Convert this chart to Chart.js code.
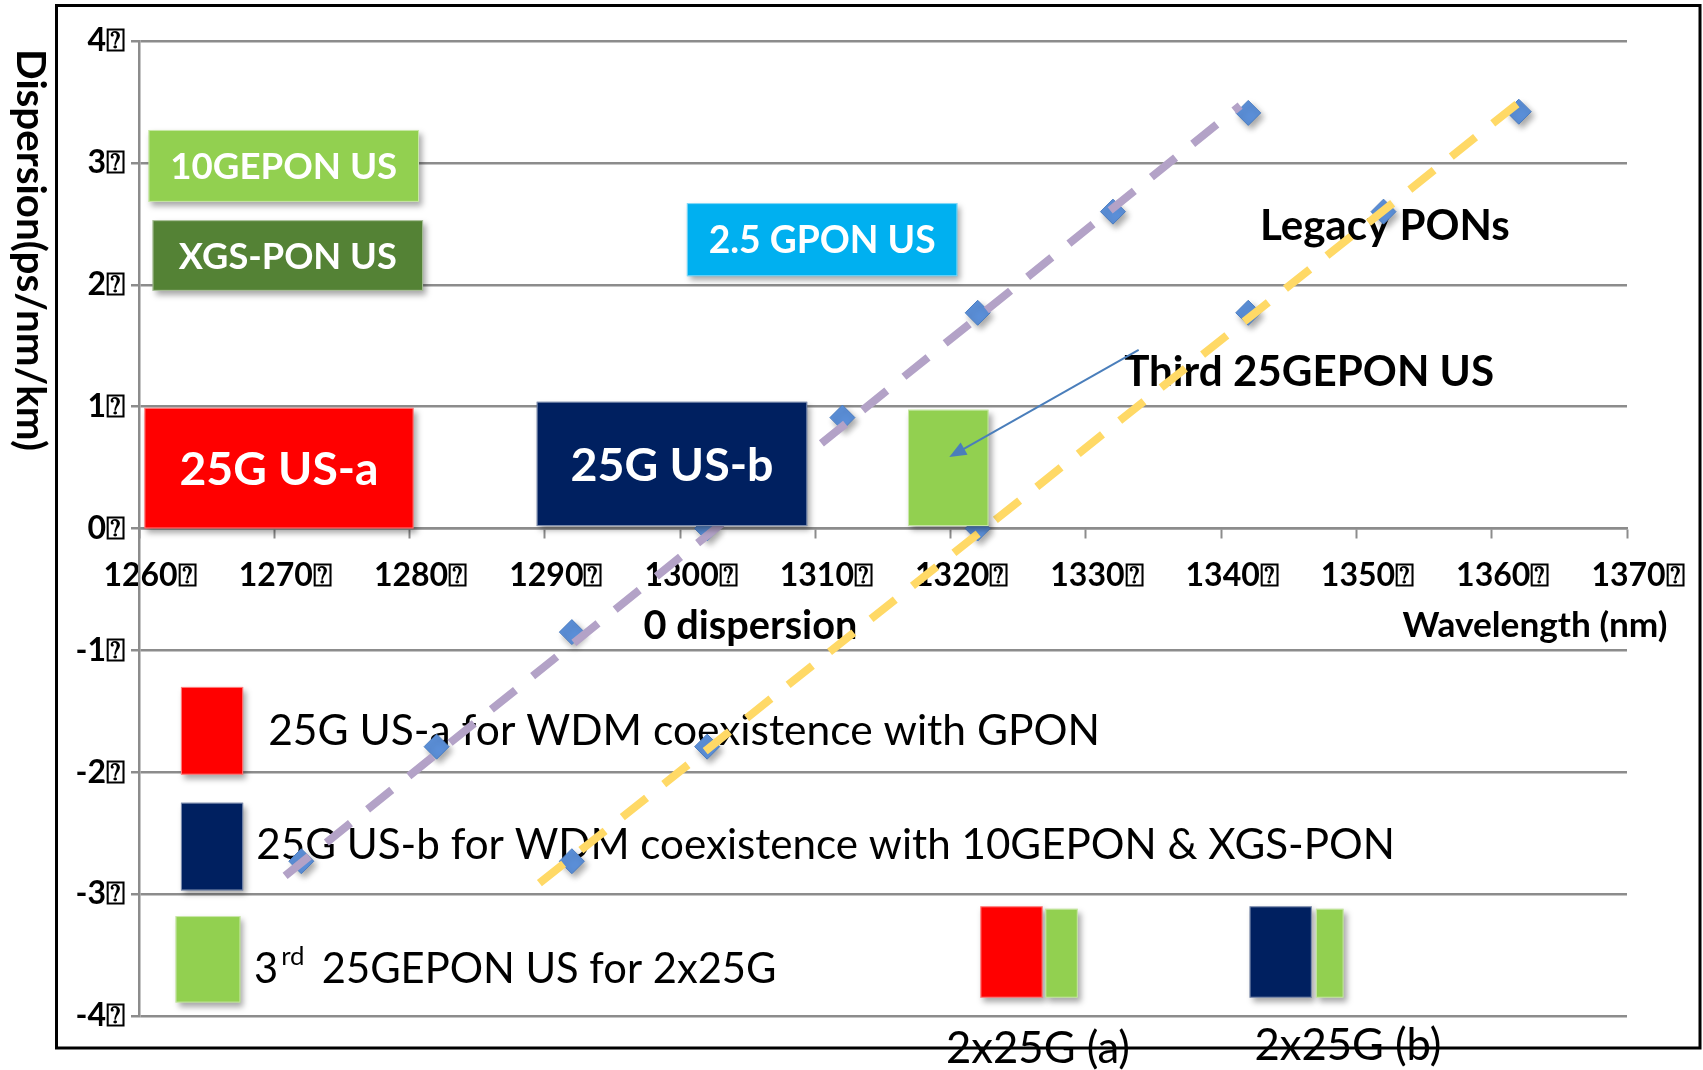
<!DOCTYPE html>
<html>
<head>
<meta charset="utf-8">
<script src="https://cdn.jsdelivr.net/npm/chart.js@4.4.0/dist/chart.umd.min.js"></script>
<style>
  html, body { margin: 0; padding: 0; background: #fff; }
  #wrap { width: 1703px; height: 1070px; position: relative; }
</style>
</head>
<body>
<div id="wrap"><canvas id="dispersionChart"></canvas></div>
<script>
// -------------------------------
// Data --------------------------
// -------------------------------
const wavelengthTicks = [1260, 1270, 1280, 1290, 1300, 1310, 1320, 1330, 1340, 1350, 1360, 1370];
const dispersionTicks = [-4, -3, -2, -1, 0, 1, 2, 3, 4];
const TOFU = "\u2370"; // the broken glyph shown after every tick label

// fibre A (purple trend)
const wavelengthA = [1272, 1282, 1292, 1302, 1312, 1322, 1332, 1342];
const dispersionA = [-2.73, -1.79, -0.85, 0, 0.91, 1.77, 2.6, 3.41];
// fibre B (yellow trend)
const wavelengthB = [1292, 1302, 1322, 1342, 1352, 1362];
const dispersionB = [-2.73, -1.79, 0, 1.77, 2.6, 3.42];

// trend line end points
const trendAWave = [1270.8, 1341.4];
const trendADisp = [-2.85, 3.47];
const trendBWave = [1289.6, 1362.3];
const trendBDisp = [-2.91, 3.52];

// -------------------------------
// Annotations -------------------
// -------------------------------
const GRID = "rgb(140,140,140)";
const FONT = "Lato";

const bandBoxes = [
  { text: "10GEPON US", x: [1260.7, 1280.7], y: [2.68, 3.27], color: "#92D050", textWidth: 227 },
  { text: "XGS-PON US", x: [1261.0, 1281.0], y: [1.95, 2.53], color: "#548235", textWidth: 218 },
  { text: "2.5 GPON US", x: [1300.5, 1320.5], y: [2.07, 2.67], color: "#00B0F0", textWidth: 227 },
  { text: "25G US-a", x: [1260.4, 1280.3], y: [0.0, 0.99], color: "#FF0000", textWidth: 199 },
  { text: "25G US-b", x: [1289.4, 1309.4], y: [0.02, 1.04], color: "#002060", textWidth: 203 },
  { x: [1316.85, 1322.8], y: [0.02, 0.975], color: "#92D050" },
  // legend swatches
  { x: [1263.1, 1267.7], y: [-2.02, -1.3], color: "#FF0000" },
  { x: [1263.1, 1267.7], y: [-2.97, -2.25], color: "#002060" },
  { x: [1262.7, 1267.5], y: [-3.89, -3.18], color: "#92D050" },
  { x: [1322.2, 1326.8], y: [-3.85, -3.1], color: "#FF0000" },
  { x: [1327.0, 1329.4], y: [-3.85, -3.12], color: "#92D050" },
  { x: [1342.1, 1346.7], y: [-3.85, -3.1], color: "#002060" },
  { x: [1347.0, 1349.05], y: [-3.85, -3.12], color: "#92D050" },
];

const notes = [
  { text: "Legacy PONs", x: 1352.1, y: 2.49, width: 250, weight: "bold", align: "center" },
  { text: "Third 25GEPON US", x: 1346.5, y: 1.29, width: 370, weight: "bold", align: "center" },
  { text: "0 dispersion", x: 1305.2, y: -0.79, width: 214, weight: "bold", align: "center" },
  { text: "Wavelength (nm)", x: 1363.2, y: -0.79, width: 265, weight: "bold", align: "center" },
  { text: "25G US-a for WDM coexistence with GPON", x: 1269.55, y: -1.65, width: 832, weight: "normal", align: "left" },
  { text: "25G US-b for WDM coexistence with 10GEPON & XGS-PON", x: 1268.67, y: -2.59, width: 1139, weight: "normal", align: "left" },
  { text: "2x25G (a)", x: 1326.46, y: -4.26, width: 184, weight: "normal", align: "center" },
  { text: "2x25G (b)", x: 1349.37, y: -4.23, width: 187, weight: "normal", align: "center" },
];
const thirdNote = { x: 1268.5, y: -3.61 };

const arrowFrom = [1333.9, 1.466];
const arrowTo = [1319.9, 0.587];

// -------------------------------
// Helpers -----------------------
// -------------------------------
function fitSize(ctx, text, weight, width) {
  ctx.font = `${weight} 100px ${FONT}`;
  return (100 * width) / ctx.measureText(text).width;
}

// draw text with its capitals centred on py
function capText(ctx, text, px, py, size, weight, align) {
  ctx.font = `${weight} ${size}px ${FONT}`;
  ctx.textAlign = align;
  ctx.textBaseline = "alphabetic";
  ctx.fillText(text, px, py + size * 0.36);
}

function shadowOn(ctx) {
  ctx.shadowColor = "rgba(0,0,0,0.35)";
  ctx.shadowBlur = 6;
  ctx.shadowOffsetX = 3;
  ctx.shadowOffsetY = 4;
}

const overlayPlugin = {
  id: "overlay",
  beforeDatasetsDraw(chart) {
    const { ctx, scales: { x, y } } = chart;
    ctx.save();
    ctx.fillStyle = "#000";
    notes.forEach((n) => {
      const size = fitSize(ctx, n.text, n.weight, n.width);
      capText(ctx, n.text, x.getPixelForValue(n.x), y.getPixelForValue(n.y), size, n.weight, n.align);
    });
    // "3rd  25GEPON US for 2x25G" with superscript
    const size = fitSize(ctx, notes[4].text, "normal", notes[4].width) * 0.98;
    let px = x.getPixelForValue(thirdNote.x);
    const py = y.getPixelForValue(thirdNote.y);
    capText(ctx, "3", px, py, size, "normal", "left");
    px += ctx.measureText("3").width + 3;
    capText(ctx, "rd", px, py - size * 0.3, size * 0.62, "normal", "left");
    px += ctx.measureText("rd").width;
    capText(ctx, "  25GEPON US for 2x25G", px - 4, py, size, "normal", "left");
    ctx.restore();
  },
  beforeDatasetDraw(chart, args) {
    if (args.meta.type === "scatter") {
      chart.ctx.save();
      shadowOn(chart.ctx);
    }
  },
  afterDatasetDraw(chart, args) {
    if (args.meta.type === "scatter") chart.ctx.restore();
  },
  afterDatasetsDraw(chart) {
    const { ctx, scales: { x, y } } = chart;
    ctx.save();
    bandBoxes.forEach((b) => {
      const x0 = x.getPixelForValue(b.x[0]);
      const x1 = x.getPixelForValue(b.x[1]);
      const y0 = y.getPixelForValue(b.y[1]);
      const y1 = y.getPixelForValue(b.y[0]);
      ctx.save();
      shadowOn(ctx);
      ctx.fillStyle = b.color;
      ctx.fillRect(x0, y0, x1 - x0, y1 - y0);
      ctx.restore();
      ctx.strokeStyle = "rgba(255,255,255,0.5)";
      ctx.lineWidth = 1;
      ctx.strokeRect(x0 + 0.5, y0 + 0.5, x1 - x0 - 1, y1 - y0 - 1);
      if (b.text) {
        ctx.fillStyle = "#fff";
        const size = fitSize(ctx, b.text, "bold", b.textWidth);
        capText(ctx, b.text, (x0 + x1) / 2, (y0 + y1) / 2, size, "bold", "center");
      }
    });

    // arrow pointing at the third 25GEPON band
    const ax0 = x.getPixelForValue(arrowFrom[0]);
    const ay0 = y.getPixelForValue(arrowFrom[1]);
    const ax1 = x.getPixelForValue(arrowTo[0]);
    const ay1 = y.getPixelForValue(arrowTo[1]);
    const ang = Math.atan2(ay1 - ay0, ax1 - ax0);
    const head = 17;
    ctx.strokeStyle = "#4A7EBB";
    ctx.fillStyle = "#4A7EBB";
    ctx.lineWidth = 2;
    ctx.beginPath();
    ctx.moveTo(ax0, ay0);
    ctx.lineTo(ax1 - Math.cos(ang) * head * 0.8, ay1 - Math.sin(ang) * head * 0.8);
    ctx.stroke();
    ctx.beginPath();
    ctx.moveTo(ax1, ay1);
    ctx.lineTo(ax1 - head * Math.cos(ang) + 7 * Math.sin(ang), ay1 - head * Math.sin(ang) - 7 * Math.cos(ang));
    ctx.lineTo(ax1 - head * Math.cos(ang) - 7 * Math.sin(ang), ay1 - head * Math.sin(ang) + 7 * Math.cos(ang));
    ctx.closePath();
    ctx.fill();
    ctx.restore();
  },
  afterDraw(chart) {
    const { ctx } = chart;
    ctx.save();
    // y-axis title, rotated clockwise
    const title = "Dispersion(ps/nm/km)";
    const size = fitSize(ctx, title, "bold", 402);
    ctx.translate(32, 250);
    ctx.rotate(Math.PI / 2);
    ctx.fillStyle = "#000";
    capText(ctx, title, 0, 0, size, "bold", "center");
    ctx.restore();

    // outer frame
    ctx.save();
    ctx.strokeStyle = "#000";
    ctx.lineWidth = 3;
    ctx.strokeRect(56.5, 5.5, 1643.5, 1042.5);
    ctx.restore();
  },
};

// -------------------------------
// Chart -------------------------
// -------------------------------
const toPoints = (xs, ys) => xs.map((v, i) => ({ x: v, y: ys[i] }));

const markerStyle = {
  pointStyle: "rectRot",
  pointRadius: 12.5,
  pointBackgroundColor: "#5B8FD8",
  pointBorderColor: "#4A7CC0",
  pointBorderWidth: 1,
  showLine: false,
  order: 2,
};

const trendStyle = {
  type: "line",
  borderWidth: 8,
  borderDash: [31, 22],
  borderCapStyle: "butt",
  pointRadius: 0,
  fill: false,
  order: 1,
};

const dispCtx = document.getElementById("dispersionChart").getContext("2d");
const dispersionChart = new Chart(dispCtx, {
  type: "scatter",
  data: {
    datasets: [
      { label: "Fibre A", data: toPoints(wavelengthA, dispersionA), ...markerStyle },
      { label: "Fibre B", data: toPoints(wavelengthB, dispersionB), ...markerStyle },
      { label: "Trend A", data: toPoints(trendAWave, trendADisp), borderColor: "#B3A2C7", ...trendStyle },
      { label: "Trend B", data: toPoints(trendBWave, trendBDisp), borderColor: "#FFD966", ...trendStyle },
    ],
  },
  options: {
    responsive: true,
    maintainAspectRatio: false,
    animation: false,
    layout: { padding: { left: 0, right: 76, top: 41, bottom: 54 } },
    plugins: { legend: { display: false }, tooltip: { enabled: false } },
    scales: {
      x: {
        type: "linear",
        min: 1260,
        max: 1370,
        position: { y: 0 },
        afterBuildTicks: (s) => { s.ticks = wavelengthTicks.map((v) => ({ value: v })); },
        afterFit: (s) => { s.height = 0; },
        grid: { drawOnChartArea: false, drawTicks: true, tickLength: 9, tickColor: GRID, tickWidth: 2 },
        border: { display: true, color: GRID, width: 2.5 },
        ticks: {
          color: "#000",
          font: { family: FONT, weight: "bold", size: 32 },
          padding: 19,
          labelOffset: 11,
          maxRotation: 0,
          autoSkip: false,
          callback: (v) => v + TOFU,
        },
      },
      y: {
        min: -4,
        max: 4,
        afterBuildTicks: (s) => { s.ticks = dispersionTicks.map((v) => ({ value: v })); },
        afterFit: (s) => { s.width = 139; },
        grid: { color: GRID, lineWidth: 2.5, drawTicks: true, tickLength: 8 },
        border: { display: true, color: GRID, width: 2.5 },
        ticks: {
          color: "#000",
          font: { family: FONT, weight: "bold", size: 32 },
          padding: 6,
          callback: (v) => v + TOFU,
        },
      },
    },
  },
  plugins: [overlayPlugin],
});
</script>
</body>
</html>
